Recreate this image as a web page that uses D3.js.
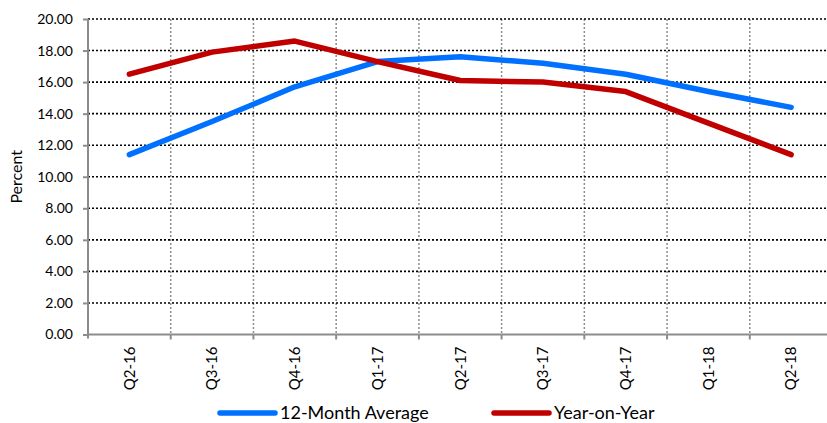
<!DOCTYPE html>
<html>
<head>
<meta charset="utf-8">
<script src="https://cdn.jsdelivr.net/npm/d3@7"></script>
<style>
  body { margin: 0; background: #fff; }
  text { font-family: Lato, "Open Sans", sans-serif; fill: #000; }
</style>
</head>
<body>
<script>
// chart data
var quarters = ["Q2-16","Q3-16","Q4-16","Q1-17","Q2-17","Q3-17","Q4-17","Q1-18","Q2-18"];
var avg12 = [11.4, 13.5, 15.7, 17.3, 17.6, 17.2, 16.5, 15.4, 14.4];
var yoy = [16.5, 17.9, 18.6, 17.3, 16.1, 16.0, 15.4, 13.4, 11.4];
var yTicks = [0, 2, 4, 6, 8, 10, 12, 14, 16, 18, 20];
var seriesNames = ["12-Month Average", "Year-on-Year"];
var colors = ["#0070FF", "#C00000"];

var width = 827, height = 423;
var margin = { top: 19, left: 88, bottom: 334.5, right: 832.5 };

var svg = d3.select("body")
  .append("svg")
  .attr("width", width)
  .attr("height", height);

var xScale = d3.scaleBand()
  .domain(quarters)
  .range([margin.left, margin.right]);

var yScale = d3.scaleLinear()
  .domain([0, 20])
  .range([margin.bottom, margin.top]);

// vertical grid (gray dotted) at band boundaries
svg.append("g")
  .selectAll("line")
  .data(quarters.slice(1))
  .enter().append("line")
    .attr("x1", function(d) { return xScale(d); })
    .attr("x2", function(d) { return xScale(d); })
    .attr("y1", margin.top)
    .attr("y2", margin.bottom)
    .attr("stroke", "#8c8c8c")
    .attr("stroke-width", 1.5)
    .attr("stroke-dasharray", "2,2");

// small tick marks under the x axis
svg.append("g")
  .selectAll("line")
  .data(quarters.slice(1))
  .enter().append("line")
    .attr("x1", function(d) { return xScale(d); })
    .attr("x2", function(d) { return xScale(d); })
    .attr("y1", margin.bottom)
    .attr("y2", margin.bottom + 5)
    .attr("stroke", "#8c8c8c")
    .attr("stroke-width", 2);

// horizontal grid (black dotted)
svg.append("g")
  .selectAll("line")
  .data(yTicks.slice(1))
  .enter().append("line")
    .attr("x1", margin.left)
    .attr("x2", width)
    .attr("y1", function(d) { return yScale(d); })
    .attr("y2", function(d) { return yScale(d); })
    .attr("stroke", "#000")
    .attr("stroke-width", 1.6)
    .attr("stroke-dasharray", "2,2");

// y axis
var yAxis = svg.append("g")
  .attr("transform", "translate(" + margin.left + ",0)")
  .call(d3.axisLeft(yScale).tickValues(yTicks).tickFormat(d3.format(".2f")).tickSize(5).tickPadding(10));
yAxis.select(".domain").attr("stroke", "#8c8c8c").attr("stroke-width", 2)
  .attr("d", "M0," + (margin.top) + "V" + (margin.bottom + 4));
yAxis.selectAll(".tick line").attr("stroke", "#8c8c8c").attr("stroke-width", 2);
yAxis.selectAll("text").style("font-size", "14px").style("font-family", "Lato, sans-serif");

// x axis
var xAxis = svg.append("g")
  .attr("transform", "translate(0," + margin.bottom + ")")
  .call(d3.axisBottom(xScale).tickSize(0).tickPadding(0));
xAxis.select(".domain").attr("stroke", "#8c8c8c").attr("stroke-width", 2)
  .attr("d", "M" + margin.left + ",0H" + width);
xAxis.selectAll(".tick text")
  .style("font-size", "15px")
  .style("font-family", "Lato, sans-serif")
  .attr("text-anchor", "end")
  .attr("dy", "0.35em")
  .attr("transform", "translate(0,12) rotate(-90)");

// y label
svg.append("text")
  .attr("text-anchor", "middle")
  .attr("transform", "translate(22," + ((margin.top + margin.bottom) / 2) + ") rotate(-90)")
  .style("font-size", "16px")
  .text("Percent");

// lines
var line = d3.line()
  .x(function(d, i) { return xScale(quarters[i]) + xScale.bandwidth() / 2; })
  .y(function(d) { return yScale(d); });

[avg12, yoy].forEach(function(s, i) {
  svg.append("path")
    .datum(s)
    .attr("d", line)
    .attr("fill", "none")
    .attr("stroke", colors[i])
    .attr("stroke-width", 5.5)
    .attr("stroke-linejoin", "round")
    .attr("stroke-linecap", "round");
});

// legend
var legendX = [220, 494];
seriesNames.forEach(function(name, i) {
  var g = svg.append("g").attr("transform", "translate(" + legendX[i] + ",413)");
  g.append("line")
    .attr("x1", 0).attr("x2", 55)
    .attr("stroke", colors[i])
    .attr("stroke-width", 5.5)
    .attr("stroke-linecap", "round");
  g.append("text")
    .attr("x", 60)
    .attr("dy", "0.35em")
    .style("font-size", "18px")
    .text(name);
});
</script>
</body>
</html>
